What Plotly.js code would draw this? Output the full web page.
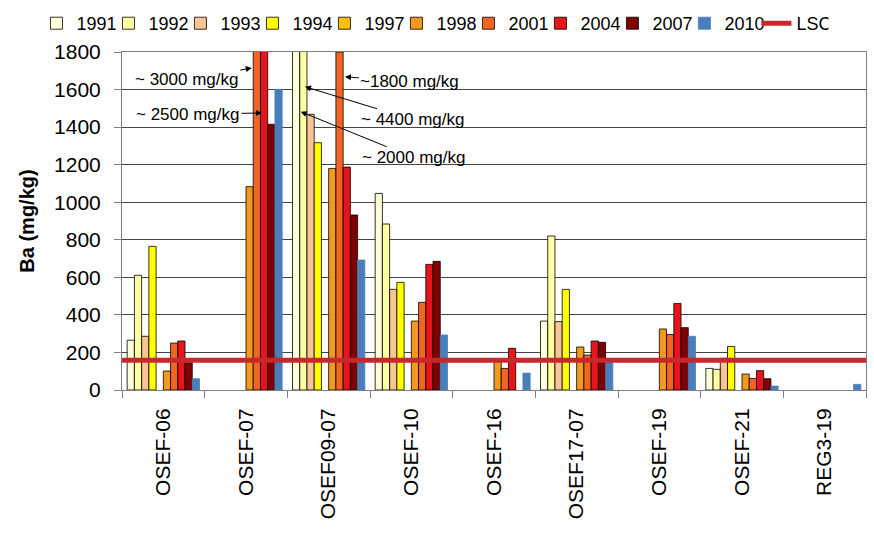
<!DOCTYPE html>
<html>
<head>
<meta charset="utf-8">
<script src="https://cdn.plot.ly/plotly-3.0.1.min.js"></script>
<style>html,body{margin:0;padding:0;background:#fff;}</style>
</head>
<body>
<div id="chart" style="width:874px;height:535px;"></div>
<script>
var categories = ["OSEF-06", "OSEF-07", "OSEF09-07", "OSEF-10", "OSEF-16", "OSEF17-07", "OSEF-19", "OSEF-21", "REG3-19"];
var years = ["1991", "1992", "1993", "1994", "1997", "1998", "2001", "2004", "2007", "2010"];
var y1991 = [265, null, 2000, 1047, null, 367, null, 115, null];
var y1992 = [611, null, 4400, 884, null, 820, null, 110, null];
var y1993 = [286, null, 1468, 536, null, 364, null, 169, null];
var y1994 = [765, null, 1317, 573, null, 536, null, 232, null];
var y1997 = [null, null, null, null, null, null, null, null, null];
var y1998 = [101, 1083, 1180, 367, 156, 229, 325, 85, null];
var y2001 = [250, 3000, 1800, 467, 115, 186, 296, 62, null];
var y2004 = [261, 2500, 1187, 669, 222, 261, 461, 103, null];
var y2007 = [145, 1415, 932, 685, null, 254, 332, 60, null];
var y2010 = [60, 1601, 692, 293, 90, 150, 286, 21, 30];
var lscValue = 158;
var lscX = [0, 1];
var yTicks = [0, 200, 400, 600, 800, 1000, 1200, 1400, 1600, 1800];

var seriesValues = [y1991, y1992, y1993, y1994, y1997, y1998, y2001, y2004, y2007, y2010];
var colors = ["#FFFFD9", "#FFFFA3", "#F9C596", "#FFFF00", "#FFC000", "#F39A1E", "#F26522", "#E8141B", "#800000", "#4A7EBB"];

var font = "Liberation Sans, Arial, sans-serif";
var traces = years.map(function (yr, i) {
  return {
    type: "bar",
    name: yr,
    x: categories,
    y: seriesValues[i],
    marker: {
      color: colors[i],
      line: {color: yr === "2010" ? "#4A7EBB" : "#000000", width: 0.8}
    },
    hoverinfo: "x+y+name"
  };
});
traces.push({
  type: "scatter",
  mode: "lines",
  name: "LSC",
  x: lscX,
  y: [lscValue, lscValue],
  xaxis: "x2",
  yaxis: "y",
  line: {color: "#C8282D", width: 5}
});

var annFont = {family: font, size: 17, color: "#000"};
function ann(text, x, y, ax, ay) {
  return {
    text: text, x: x, y: y, xref: "x", yref: "y",
    ax: ax, ay: ay, showarrow: true,
    arrowhead: 2, arrowsize: 1.2, arrowwidth: 1, arrowcolor: "#000",
    standoff: 0, font: annFont
  };
}

var layout = {
  width: 874,
  height: 535,
  margin: {l: 122, r: 8, t: 52, b: 145, autoexpand: false},
  paper_bgcolor: "#fff",
  plot_bgcolor: "#fff",
  barmode: "group",
  bargap: 0.125,
  bargroupgap: 0,
  font: {family: font, color: "#000"},
  showlegend: true,
  legend: {
    orientation: "h",
    x: -0.115, xanchor: "left",
    y: 1.139, yanchor: "top",
    font: {family: font, size: 18, color: "#000"},
    entrywidth: 27,
    traceorder: "normal",
    itemclick: false
  },
  xaxis: {
    type: "category",
    tickson: "boundaries",
    ticks: "outside",
    ticklen: 7,
    tickcolor: "#808080",
    tickangle: -90,
    tickfont: {family: font, size: 21, color: "#000"},
    ticklabelstandoff: 9,
    showline: true,
    linecolor: "#808080",
    linewidth: 1,
    mirror: true,
    showgrid: false,
    automargin: false
  },
  xaxis2: {
    overlaying: "x",
    range: [0, 1],
    visible: false,
    fixedrange: true
  },
  yaxis: {
    range: [0, 1800],
    tickvals: yTicks,
    ticks: "outside",
    ticklen: 7,
    tickcolor: "#808080",
    tickfont: {family: font, size: 21, color: "#000"},
    ticklabelstandoff: 9,
    showline: true,
    linecolor: "#808080",
    linewidth: 1,
    mirror: true,
    showgrid: true,
    gridcolor: "#444444",
    gridwidth: 1,
    zeroline: false,
    automargin: false,
    title: {text: "<b>Ba (mg/kg)</b>", font: {family: font, size: 20, color: "#000"}, standoff: 14}
  },
  annotations: [
    ann("~ 3000 mg/kg", 1.07, 1715, -65, 12),
    ann("~ 2500 mg/kg", 1.193, 1475, -74, 1),
    ann("~1800 mg/kg", 2.197, 1668, 65, 5),
    ann("~ 4400 mg/kg", 1.714, 1615, 108, 33),
    ann("~ 2000 mg/kg", 1.662, 1482, 113, 46)
  ]
};

Plotly.newPlot("chart", traces, layout, {displayModeBar: false, staticPlot: true});
</script>
</body>
</html>
